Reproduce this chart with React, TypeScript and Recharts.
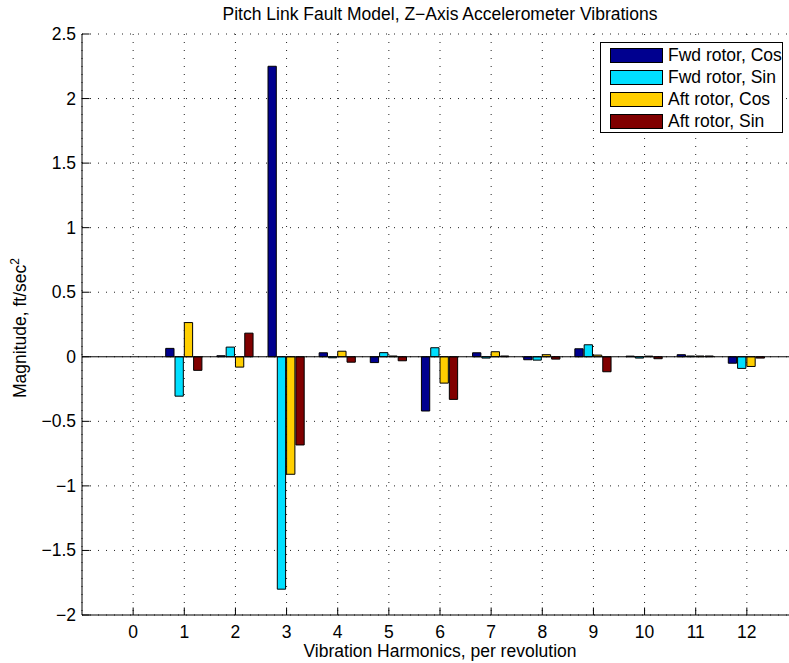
import React from "react";
import { BarChart, Bar, XAxis, YAxis, CartesianGrid, ReferenceLine, Legend } from "recharts";

const harmonics = [0, 1, 2, 3, 4, 5, 6, 7, 8, 9, 10, 11, 12];
const fwdCos = [0, 0.065, 0.008, 2.25, 0.031, -0.045, -0.42, 0.031, -0.023, 0.062, 0.005, 0.016, -0.05];
const fwdSin = [0, -0.305, 0.075, -1.8, -0.008, 0.032, 0.07, -0.01, -0.026, 0.093, -0.01, 0.006, -0.09];
const aftCos = [0, 0.265, -0.08, -0.91, 0.043, 0.006, -0.204, 0.039, 0.016, 0.013, 0.005, 0.006, -0.075];
const aftSin = [0, -0.105, 0.183, -0.683, -0.042, -0.031, -0.33, 0.006, -0.018, -0.116, -0.015, 0.006, -0.01];
const yTicks = [-2, -1.5, -1, -0.5, 0, 0.5, 1, 1.5, 2, 2.5];
const seriesKeys = ["fwdCos", "fwdSin", "aftCos", "aftSin"];
const seriesNames = ["Fwd rotor, Cos", "Fwd rotor, Sin", "Aft rotor, Cos", "Aft rotor, Sin"];
const seriesColors = ["#00008F", "#00DFFF", "#FFCF00", "#800000"];

const data = harmonics.map((h, i) => ({
  h,
  fwdCos: fwdCos[i],
  fwdSin: fwdSin[i],
  aftCos: aftCos[i],
  aftSin: aftSin[i],
}));

const FONT = "'Liberation Sans', Arial, Helvetica, sans-serif";
const FS = 17.5;

const fmt = (v: number) => (v < 0 ? "\u2212" + Math.abs(v) : String(v));

const BottomTick = (props: any) => {
  const { x, y, payload } = props;
  return (
    <g>
      <line x1={x} y1={y} x2={x} y2={y - 7.5} stroke="#000" strokeWidth={1} />
      <text x={x} y={y + 23} textAnchor="middle" fontSize={FS} fontFamily={FONT} fill="#000">
        {payload.value}
      </text>
    </g>
  );
};

const TopTick = (props: any) => {
  const { x, y } = props;
  return <line x1={x} y1={y} x2={x} y2={y + 7.5} stroke="#000" strokeWidth={1} />;
};

const LeftTick = (props: any) => {
  const { x, y, payload } = props;
  return (
    <g>
      <line x1={x} y1={y} x2={x + 7.5} y2={y} stroke="#000" strokeWidth={1} />
      <text x={x - 6} y={y + 6} textAnchor="end" fontSize={FS} fontFamily={FONT} fill="#000">
        {fmt(payload.value)}
      </text>
    </g>
  );
};

const LegendBox = () => {
  return (
    <div
      style={{
        position: "relative",
        boxSizing: "border-box",
        width: 183,
        height: 91,
        border: "1px solid #000",
        background: "#fff",
        fontFamily: FONT,
        fontSize: FS,
        color: "#000",
      }}
    >
      {seriesNames.map((name, i) => {
        const c = 13.3 + i * 22.07 - 1;
        return (
          <React.Fragment key={name}>
            <div
              style={{
                position: "absolute",
                boxSizing: "border-box",
                left: 9,
                top: c - 7.6,
                width: 53,
                height: 15.3,
                background: seriesColors[i],
                border: "1px solid #000",
              }}
            />
            <div
              style={{
                position: "absolute",
                left: 67,
                top: c - 11.2,
                height: 22,
                lineHeight: "22px",
                whiteSpace: "nowrap",
              }}
            >
              {name}
            </div>
          </React.Fragment>
        );
      })}
    </div>
  );
};

export default function App() {
  return (
    <div
      style={{
        position: "fixed",
        left: 0,
        top: 0,
        width: 789,
        height: 663,
        overflow: "hidden",
        background: "#fff",
      }}
    >
      <BarChart
        width={820}
        height={663}
        data={data}
        margin={{ top: 34, right: 22, bottom: 0, left: 22 }}
        barGap={1}
        barSize={8.3}
      >
        <CartesianGrid stroke="#222" strokeDasharray="1 7" />
        <XAxis
          dataKey="h"
          type="number"
          domain={[-1, 13]}
          ticks={harmonics}
          interval={0}
          height={48}
          tickSize={0}
          tickMargin={0}
          tickLine={false}
          axisLine={{ stroke: "#000", strokeWidth: 1 }}
          tick={<BottomTick />}
        />
        <XAxis
          xAxisId="top"
          orientation="top"
          dataKey="h"
          type="number"
          domain={[-1, 13]}
          ticks={harmonics}
          interval={0}
          height={0}
          tickSize={0}
          tickMargin={0}
          tickLine={false}
          axisLine={{ stroke: "#000", strokeWidth: 1 }}
          tick={<TopTick />}
        />
        <YAxis
          type="number"
          domain={[-2, 2.5]}
          ticks={yTicks}
          interval={0}
          width={60}
          tickSize={0}
          tickMargin={0}
          tickLine={false}
          axisLine={{ stroke: "#000", strokeWidth: 1 }}
          tick={<LeftTick />}
        />
        <Legend
          layout="vertical"
          align="center"
          verticalAlign="middle"
          wrapperStyle={{ top: 42, left: 600, width: 183, height: 91 }}
          content={<LegendBox />}
        />
        {seriesKeys.map((k, i) => (
          <Bar
            key={k}
            dataKey={k}
            name={seriesNames[i]}
            fill={seriesColors[i]}
            stroke="#000"
            strokeWidth={1}
            isAnimationActive={false}
          />
        ))}
        <ReferenceLine y={0} stroke="#000" strokeWidth={1} />
        <text x={440} y={20} textAnchor="middle" fontSize={FS} fontFamily={FONT} fill="#000">
          Pitch Link Fault Model, Z{"\u2212"}Axis Accelerometer Vibrations
        </text>
        <text x={440} y={657} textAnchor="middle" fontSize={FS} fontFamily={FONT} fill="#000">
          Vibration Harmonics, per revolution
        </text>
        <text
          x={26}
          y={328}
          textAnchor="middle"
          fontSize={FS}
          fontFamily={FONT}
          fill="#000"
          transform="rotate(-90 26 328)"
        >
          Magnitude, ft/sec
          <tspan fontSize={12} dy={-7}>
            2
          </tspan>
        </text>
      </BarChart>
    </div>
  );
}
